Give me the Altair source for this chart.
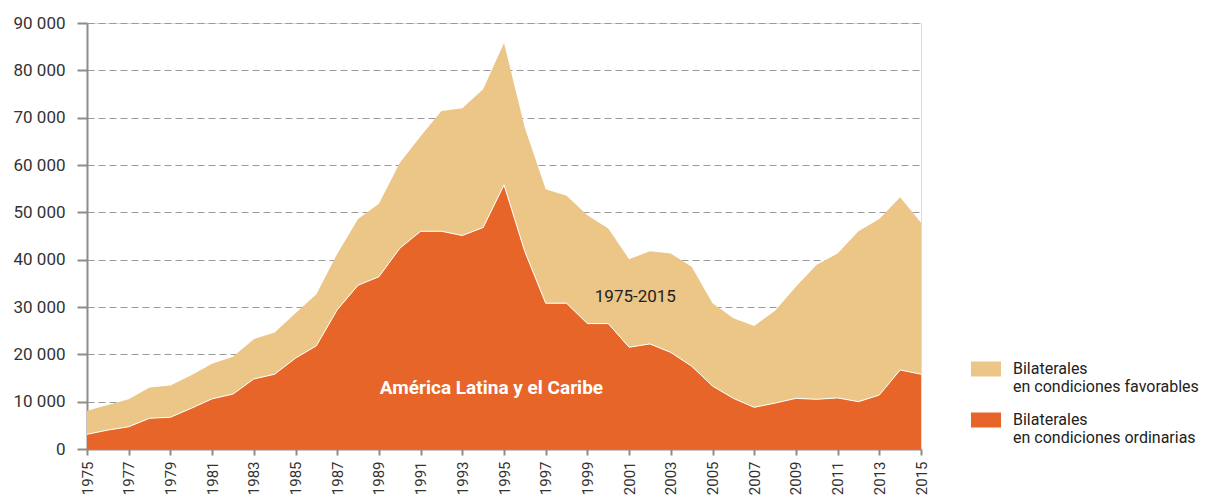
import altair as alt
import pandas as pd

years = list(range(1975, 2016))
total = [8100, 9300, 10500, 13000, 13400, 15600, 18000, 19500, 23200, 24600,
         28700, 32700, 41200, 48600, 51800, 60400, 66100, 71400, 72000, 76000,
         85800, 67800, 54900, 53500, 49400, 46600, 40100, 41800, 41300, 38500,
         30800, 27600, 26000, 29200, 34300, 38900, 41300, 46000, 48600, 53200, 47800]
ordinarias = [3100, 4000, 4700, 6500, 6700, 8600, 10600, 11600, 14800, 15800,
              19200, 21800, 29400, 34600, 36400, 42400, 46000, 46000, 45100, 46800,
              55800, 41700, 30800, 30800, 26500, 26500, 21500, 22200, 20400, 17500,
              13300, 10700, 8800, 9700, 10700, 10500, 10800, 10000, 11400, 16700, 15800]
favorables = [t - o for t, o in zip(total, ordinarias)]

S_FAV = "Bilaterales|en condiciones favorables"
S_ORD = "Bilaterales|en condiciones ordinarias"

rows = []
for y, o, f in zip(years, ordinarias, favorables):
    rows.append({"year": y, "serie": S_ORD, "value": o, "ord": 0})
    rows.append({"year": y, "serie": S_FAV, "value": f, "ord": 1})
df = pd.DataFrame(rows)
df_line = pd.DataFrame({"year": years, "value": ordinarias})

ann = pd.DataFrame({
    "year": [1994.4, 2001.3],
    "value": [12900, 32100],
    "label": ["América Latina y el Caribe", "1975-2015"],
    "kind": ["white", "black"],
})

FONT = "Roboto"

xscale = alt.Scale(domain=[1975, 2015], nice=False, zero=False)
yscale = alt.Scale(domain=[0, 90000], nice=False)

area = alt.Chart(df).mark_area(opacity=1).encode(
    x=alt.X("year:Q", scale=xscale, title=None,
            axis=alt.Axis(values=years, labelExpr="datum.value % 2 == 1 ? format(datum.value, 'd') : ''",
                          labelAngle=270, labelAlign="right", labelBaseline="middle",
                          labelFontSize=15, labelColor="#333333", labelFont=FONT,
                          labelPadding=6, tickSize=6, tickColor="#8c8c8c", tickWidth=2,
                          domainColor="#8c8c8c", domainWidth=2, grid=False, labelOverlap=False,
                          labelFlush=False)),
    y=alt.Y("value:Q", stack="zero", scale=yscale, title=None,
            axis=alt.Axis(values=list(range(0, 90001, 10000)),
                          labelExpr="replace(format(datum.value, ','), ',', ' ')",
                          labelFontSize=17, labelColor="#333333", labelFont=FONT,
                          labelPadding=12, tickSize=10, tickColor="#8c8c8c", tickWidth=2,
                          domainColor="#8c8c8c", domainWidth=2,
                          grid=True, gridColor="#9a9a9a", gridDash=[7, 4], gridWidth=1.2)),
    color=alt.Color("serie:N",
                    scale=alt.Scale(domain=[S_FAV, S_ORD], range=["#EBC687", "#E8652A"]),
                    legend=alt.Legend(title=None, orient="none", legendX=884, legendY=331,
                                      symbolType="M-1,-0.5L1,-0.5L1,0.5L-1,0.5Z",
                                      symbolSize=900, symbolStrokeWidth=0,
                                      labelExpr="split(datum.label, '|')",
                                      labelFont=FONT, labelFontSize=16, labelColor="#222222",
                                      labelLimit=0, labelOffset=12, labelBaseline="middle",
                                      rowPadding=10, padding=0)),
    order=alt.Order("ord:Q", sort="ascending"),
)

line = alt.Chart(df_line).mark_line(color="white", strokeWidth=1).encode(
    x=alt.X("year:Q", scale=xscale),
    y=alt.Y("value:Q", scale=yscale),
)

txt_white = alt.Chart(ann).transform_filter("datum.kind == 'white'").mark_text(
    color="white", fontWeight="bold", fontSize=19, font=FONT).encode(
    x=alt.X("year:Q", scale=xscale), y=alt.Y("value:Q", scale=yscale), text="label:N")
txt_black = alt.Chart(ann).transform_filter("datum.kind == 'black'").mark_text(
    color="#222222", fontSize=17, font=FONT).encode(
    x=alt.X("year:Q", scale=xscale), y=alt.Y("value:Q", scale=yscale), text="label:N")

chart = alt.layer(area, line, txt_white, txt_black).properties(
    width=834, height=426,
    autosize=alt.AutoSizeParams(type="none"),
    padding={"left": 79, "top": 15, "right": 287, "bottom": 47},
).configure_view(stroke=None).configure(background="white")

chart.save("out.html", embed_options={"renderer": "svg", "actions": False})
